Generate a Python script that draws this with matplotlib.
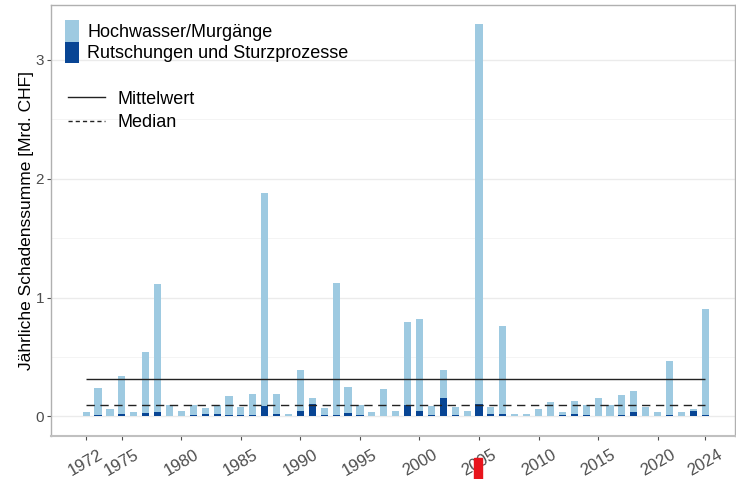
import numpy as np
import matplotlib
matplotlib.use("Agg")
import matplotlib.pyplot as plt
from matplotlib.patches import Patch, Rectangle
from matplotlib.lines import Line2D

plt.rcParams['font.family'] = ['Liberation Sans', 'DejaVu Sans']

years = list(range(1972, 2025))
# total yearly damage [bn CHF] and part from landslides / rockfall
total = [0.04, 0.24, 0.065, 0.34, 0.034, 0.54, 1.11, 0.098, 0.045, 0.098,
         0.07, 0.098, 0.17, 0.08, 0.19, 1.88, 0.185, 0.017, 0.39, 0.155,
         0.073, 1.12, 0.25, 0.098, 0.04, 0.23, 0.048, 0.795, 0.823, 0.09,
         0.39, 0.079, 0.05, 3.30, 0.079, 0.764, 0.022, 0.022, 0.062, 0.12,
         0.034, 0.13, 0.098, 0.155, 0.098, 0.18, 0.21, 0.08, 0.034, 0.47,
         0.04, 0.067, 0.90]
rutsch = [0.0, 0.01, 0.005, 0.022, 0.004, 0.025, 0.04, 0.008, 0.004, 0.01,
          0.02, 0.02, 0.015, 0.012, 0.015, 0.084, 0.022, 0.002, 0.042, 0.107,
          0.01, 0.01, 0.03, 0.01, 0.004, 0.006, 0.0, 0.098, 0.042, 0.014,
          0.157, 0.012, 0.008, 0.107, 0.017, 0.022, 0.006, 0.004, 0.004, 0.006,
          0.012, 0.02, 0.01, 0.008, 0.006, 0.01, 0.04, 0.004, 0.008, 0.01,
          0.004, 0.048, 0.012]
hochwasser = [t - r for t, r in zip(total, rutsch)]

xticks = [1972, 1975, 1980, 1985, 1990, 1995, 2000, 2005, 2010, 2015, 2020, 2024]

light = '#9ecae1'
dark = '#084594'

fig = plt.figure(figsize=(7.36, 4.79), dpi=100)
ax = fig.add_axes([51 / 736, 43.5 / 479, 684 / 736, 430.5 / 479])

ax.bar(years, rutsch, width=0.6, color=dark, zorder=3)
ax.bar(years, hochwasser, width=0.6, bottom=rutsch, color=light, zorder=3)

mean = np.mean(total)
median = np.median(total)
ax.hlines(mean, years[0], years[-1], color='#222222', lw=1.0, zorder=4)
ax.hlines(median, years[0], years[-1], color='#222222', lw=1.0,
          linestyles=(0, (6, 4)), zorder=4)

ax.set_xlim(1969.05, 2026.5)
ax.set_ylim(-0.16, 3.46)
ax.set_yticks([0, 1, 2, 3])
ax.set_yticks([0.5, 1.5, 2.5], minor=True)
ax.set_xticks(xticks)
ax.set_xticklabels([str(y) for y in xticks], rotation=30, ha='center')
ax.tick_params(axis='x', labelsize=12, colors='#4d4d4d', length=3, pad=5,
               width=0.8)
ax.tick_params(axis='y', labelsize=11, colors='#4d4d4d', length=3, pad=2,
               width=0.8)
ax.tick_params(axis='y', which='minor', length=0)
ax.grid(axis='y', which='major', color='#ebebeb', lw=1.0, zorder=0)
ax.grid(axis='y', which='minor', color='#f2f2f2', lw=0.6, zorder=0)
ax.set_axisbelow(True)
for s in ax.spines.values():
    s.set_color('#b0b0b0')
    s.set_linewidth(1.0)
ax.spines['bottom'].set_color('#c0c0c0')
ax.spines['bottom'].set_linewidth(1.5)

ax.set_ylabel('Jährliche Schadenssumme [Mrd. CHF]', fontsize=12.5,
              color='black', labelpad=1)

h1 = [Patch(facecolor=light, edgecolor='none'),
      Patch(facecolor=dark, edgecolor='none')]
leg1 = ax.legend(h1, ['Hochwasser/Murgänge', 'Rutschungen und Sturzprozesse'],
                 loc='upper left', bbox_to_anchor=(0.0205, 0.965), frameon=False,
                 fontsize=13, handlelength=0.78, handleheight=1.45,
                 labelspacing=0.0, handletextpad=0.44, borderaxespad=0,
                 borderpad=0)
ax.add_artist(leg1)

h2 = [Line2D([], [], color='#222222', lw=1.0),
      Line2D([], [], color='#222222', lw=1.0, linestyle=(0, (3, 2.2)))]
ax.legend(h2, ['Mittelwert', 'Median'], loc='upper left',
          bbox_to_anchor=(0.025, 0.801), frameon=False, fontsize=13,
          handlelength=2.05, labelspacing=0.37, handletextpad=0.67,
          borderaxespad=0, borderpad=0)

# red marker over the 2005 label
fig.patches.append(Rectangle((474 / 736, 0), 8 / 736, 21 / 479,
                             transform=fig.transFigure, color='#e8141c',
                             zorder=10))

fig.savefig('out.png', dpi=100)
